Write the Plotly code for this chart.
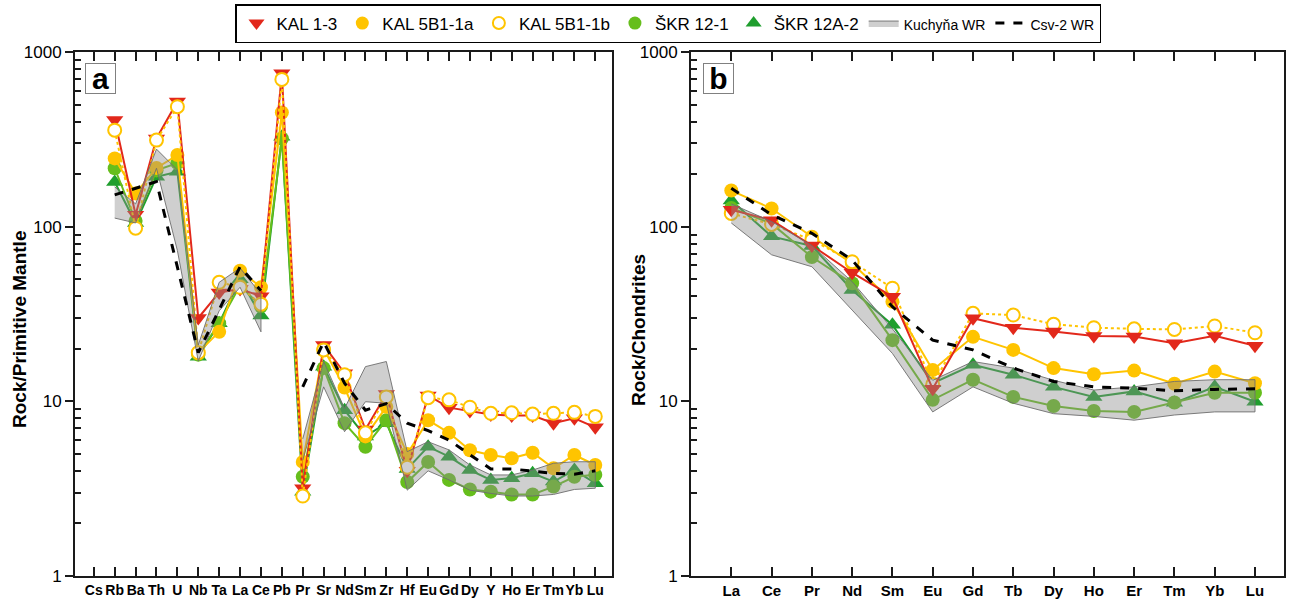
import plotly.graph_objects as go

# ---------------------------------------------------------------- data
pm_elements = ["Cs", "Rb", "Ba", "Th", "U", "Nb", "Ta", "La", "Ce", "Pb", "Pr", "Sr", "Nd",
               "Sm", "Zr", "Hf", "Eu", "Gd", "Dy", "Y", "Ho", "Er", "Tm", "Yb", "Lu"]
ree_elements = ["La", "Ce", "Pr", "Nd", "Sm", "Eu", "Gd", "Tb", "Dy", "Ho", "Er", "Tm", "Yb", "Lu"]

# (a) primitive-mantle normalised values
kal13_pm = [None, 408, 117, 320, 520, 30, 42, 44, 40, 755, 3.18, 21, 14.5, 6.9, 11.0, 4.0,
            10.8, 9.2, 8.8, 8.4, 8.3, 8.3, 7.5, 8.0, 7.1]
kal5b1a_pm = [None, 246, 155, 217, 257, 19, 25, 56, 45, 450, 4.5, 20, 12.0, 6.3, 9.3, 5.0,
              7.8, 6.6, 5.25, 4.93, 4.72, 5.08, 4.14, 4.93, 4.32]
kal5b1b_pm = [None, 357, 98, 313, 486, 19, 48, 45, 36, 697, 2.87, 19.7, 14.2, 6.6, 10.6, 4.2,
              10.5, 10.2, 9.25, 8.54, 8.6, 8.45, 8.54, 8.65, 8.2]
skr121_pm = [None, 216, 108, 210, 231, 18.5, 28, 46, 35, 320, 3.7, 15.5, 7.5, 5.5, 7.8, 3.45,
             4.5, 3.55, 3.13, 3.04, 2.93, 2.93, 3.25, 3.7, 3.8]
skr12a2_pm = [None, 180, 105, 193, 206, 18, 28, 50, 31, 327, 3.04, 15.8, 8.9, 6.3, 7.5, 4.1,
              5.5, 4.82, 4.04, 3.55, 3.63, 3.87, 3.47, 4.04, 3.4]
csv2_pm = [None, 152, None, 181, None, 19, None, 59, 43, None, 12.1, 21.9, 12.7, 8.9, 9.7, 7.5,
           6.8, 6.0, 4.95, 4.1, 4.1, 4.0, 3.87, 3.83, 4.0]
kuch_pm_hi = [None, 169, 135, 278, 211, 21, 48, 58, 41, None, 6.1, 16.9, 9.1, 15.8, 16.9, 5.15,
              5.87, 5.27, 4.32, 3.79, 3.79, 4.04, 4.42, 4.51, 4.51]
kuch_pm_lo = [None, 112, 105, 216, 73, 17, 33, 45, 25, None, 4.6, 12.1, 6.7, 9.95, 9.75, 3.1,
              4.0, 3.55, 3.1, 2.97, 2.87, 2.87, 2.93, 3.13, 3.18]

# (b) chondrite normalised REE
kal13_cn = [125, 109, 78, 54.5, 39.7, 11.8, 29.9, 26.4, 25.1, 23.7, 23.5, 21.5, 23.7, 20.8]
kal5b1a_cn = [161, 127, 87.6, 61.7, 37.2, 15.1, 23.4, 19.7, 15.5, 14.3, 15.0, 12.6, 14.8, 12.7]
kal5b1b_cn = [119, 103, 84, 63, 44.4, 12.5, 31.9, 31.2, 27.6, 26.4, 26.0, 25.8, 27.0, 24.7]
skr121_cn = [128, 104, 67, 47.4, 22.4, 10.2, 13.3, 10.6, 9.4, 8.8, 8.7, 9.85, 11.2, 11.2]
skr12a2_cn = [141, 88, 77.5, 43.4, 27.4, 12.7, 16.2, 14.2, 12.1, 10.6, 11.4, 9.8, 12.1, 9.95]
csv2_cn = [166, 117, 91.6, 64.4, 34.8, 22.4, 19.7, 15.5, 13.0, 12.1, 11.9, 11.5, 11.7, 11.8]
kuch_cn_hi = [135, 107, 78, 48.4, 26, 13.2, 16.9, 15.5, 13.2, 11.6, 12.1, 13.0, 13.3, 13.3]
kuch_cn_lo = [105, 69, 59, 33.3, 18.8, 8.7, 12.1, 9.75, 8.5, 8.2, 7.8, 8.35, 8.7, 8.7]

y_ticks = [1, 10, 100, 1000]
y_ticklabels = ["1", "10", "100", "1000"]

# ---------------------------------------------------------------- styles
RED = "#E2281B"
YEL = "#FFC400"
GRN1 = "#66BE1C"
GRN2 = "#1F9E2E"
BAND_FILL = "rgba(140,140,140,0.42)"
BAND_LINE = "rgba(110,110,110,0.9)"

samples = {
    "KAL 1-3": dict(color=RED, symbol="triangle-down", size=15, fill=RED, dash="solid"),
    "KAL 5B1-1a": dict(color=YEL, symbol="circle", size=14, fill=YEL, dash="solid"),
    "KAL 5B1-1b": dict(color=YEL, symbol="circle", size=13, fill="white", dash="dot"),
    "ŠKR 12-1": dict(color=GRN1, symbol="circle", size=14, fill=GRN1, dash="solid"),
    "ŠKR 12A-2": dict(color=GRN2, symbol="triangle-up", size=15, fill=GRN2, dash="solid"),
}

fig = go.Figure()


def add_sample(name, x, y, xa, ya):
    s = samples[name]
    fig.add_trace(go.Scatter(
        x=x, y=y, xaxis=xa, yaxis=ya, mode="lines+markers", name=name, showlegend=False,
        connectgaps=False,
        line=dict(color=s["color"], width=2, dash=s["dash"]),
        marker=dict(symbol=s["symbol"], size=s["size"], color=s["fill"],
                    line=dict(color=s["color"], width=2 if s["fill"] == "white" else 0)),
    ))


def runs_of(values):
    """Index runs where a value is present."""
    runs, cur = [], []
    for i, v in enumerate(values):
        if v is None:
            if cur:
                runs.append(cur)
            cur = []
        else:
            cur.append(i)
    if cur:
        runs.append(cur)
    return runs


def add_band(xs, hi, lo, xa, ya, legend):
    for k, run in enumerate(runs_of(hi)):
        bx = [xs[i] for i in run] + [xs[i] for i in reversed(run)]
        by = [hi[i] for i in run] + [lo[i] for i in reversed(run)]
        fig.add_trace(go.Scatter(
            x=bx, y=by, xaxis=xa, yaxis=ya, mode="lines", fill="toself",
            fillcolor=BAND_FILL, line=dict(color=BAND_LINE, width=1),
            name='<span style="font-size:14px">Kuchyňa WR</span>',
            showlegend=legend and k == 0, legendrank=6, hoverinfo="skip",
        ))


def add_csv2(xs, ys, xa, ya, legend):
    # the curve is broken at Pb (not analysed); other missing elements are bridged
    cut = xs.index("Pb") if "Pb" in xs else len(xs)
    parts = [(xs[:cut], ys[:cut]), (xs[cut + 1:], ys[cut + 1:])]
    parts = [p for p in parts if p[0]]
    for k, (px, py) in enumerate(parts):
        fig.add_trace(go.Scatter(
            x=px, y=py, xaxis=xa, yaxis=ya, mode="lines", connectgaps=True,
            line=dict(color="black", width=3, dash="dash"),
            name='<span style="font-size:14px">Csv-2 WR</span>',
            showlegend=legend and k == 0, legendrank=7,
        ))


# panel a
for nm, vals in [("ŠKR 12A-2", skr12a2_pm), ("ŠKR 12-1", skr121_pm), ("KAL 5B1-1a", kal5b1a_pm),
                 ("KAL 1-3", kal13_pm), ("KAL 5B1-1b", kal5b1b_pm)]:
    add_sample(nm, pm_elements, vals, "x", "y")
add_band(pm_elements, kuch_pm_hi, kuch_pm_lo, "x", "y", True)
add_csv2(pm_elements, csv2_pm, "x", "y", True)

# panel b
for nm, vals in [("ŠKR 12A-2", skr12a2_cn), ("ŠKR 12-1", skr121_cn), ("KAL 5B1-1a", kal5b1a_cn),
                 ("KAL 5B1-1b", kal5b1b_cn), ("KAL 1-3", kal13_cn)]:
    add_sample(nm, ree_elements, vals, "x2", "y2")
add_band(ree_elements, kuch_cn_hi, kuch_cn_lo, "x2", "y2", False)
add_csv2(ree_elements, csv2_cn, "x2", "y2", False)

# legend entries (symbol only)
for rank, (nm, s) in enumerate(samples.items(), start=1):
    fig.add_trace(go.Scatter(
        x=[None], y=[None], xaxis="x", yaxis="y", mode="markers", name=nm, legendrank=rank,
        marker=dict(symbol=s["symbol"], size=s["size"] - 1, color=s["fill"],
                    line=dict(color=s["color"], width=2 if s["fill"] == "white" else 0)),
    ))

# ---------------------------------------------------------------- axes
W, H = 1293, 600
top, bottom = 52, 576
ydom = [(H - bottom) / H, (H - top) / H]
xa_dom = [75 / W, 612 / W]
xb_dom = [691 / W, 1284 / W]

minor_vals = [m * 10 ** e for e in range(3) for m in range(2, 10)]
AX = "#1a1a1a"

common_x = dict(type="category", showgrid=False, zeroline=False, showline=True, linewidth=2,
                linecolor=AX, mirror="allticks", ticks="inside", ticklen=9, tickwidth=1.5,
                tickcolor=AX, tickangle=0, automargin=False, tickmode="array")
common_y = dict(type="log", range=[0, 3], showgrid=False, zeroline=False, showline=True,
                linewidth=2, linecolor=AX, mirror=True, ticks="outside", ticklen=8,
                tickwidth=1.5, tickcolor=AX, tickmode="array", tickvals=y_ticks,
                ticktext=y_ticklabels, automargin=False,
                tickfont=dict(family="Liberation Sans, Arial", size=17, color="black"),
                minor=dict(ticks="inside", ticklen=6, tickwidth=1.5, tickcolor=AX,
                           tickmode="array", tickvals=minor_vals, showgrid=False))
right_y = dict(type="log", range=[0, 3], showgrid=False, zeroline=False, showline=False,
               ticks="inside", ticklen=9, tickwidth=1.5, tickcolor=AX, tickmode="array",
               tickvals=y_ticks, showticklabels=False, side="right", automargin=False,
               minor=dict(ticks="inside", ticklen=6, tickwidth=1.5, tickcolor=AX,
                          tickmode="array", tickvals=minor_vals, showgrid=False))

fig.update_layout(
    width=W, height=H, margin=dict(l=0, r=0, t=0, b=0, autoexpand=False),
    paper_bgcolor="white", plot_bgcolor="white",
    font=dict(family="Liberation Sans, Arial", color="black"),
    xaxis=dict(common_x, domain=xa_dom, anchor="y", range=[-0.9, 24.8],
               categoryorder="array", categoryarray=pm_elements, tickvals=pm_elements,
               tickfont=dict(family="Liberation Sans, Arial", size=14, color="black",
                             weight="bold")),
    yaxis=dict(common_y, domain=ydom, anchor="x"),
    xaxis2=dict(common_x, domain=xb_dom, anchor="y2", range=[-1.0, 13.72],
                categoryorder="array", categoryarray=ree_elements, tickvals=ree_elements,
                tickfont=dict(family="Liberation Sans, Arial", size=15, color="black",
                              weight="bold")),
    yaxis2=dict(common_y, domain=ydom, anchor="x2"),
    yaxis3=dict(right_y, overlaying="y", anchor="x"),
    yaxis4=dict(right_y, overlaying="y2", anchor="x2"),
    showlegend=True,
    legend=dict(orientation="h", x=668 / W, xanchor="center", y=1 - 4 / H, yanchor="top",
                bordercolor="black", borderwidth=1.5, bgcolor="white",
                font=dict(family="Liberation Sans, Arial", size=17, color="black"),
                itemwidth=30, tracegroupgap=0),
)

# panel letters and y-axis titles
for txt, xc in [("a", 100), ("b", 718)]:
    fig.add_annotation(text=f"<b>{txt}</b>", xref="paper", yref="paper", x=xc / W, y=1 - 79 / H,
                       xanchor="center", yanchor="middle", showarrow=False, width=29, height=29,
                       bordercolor="#808080", borderwidth=1, borderpad=0, bgcolor="white",
                       font=dict(family="Liberation Sans, Arial", size=30, color="black"))
for txt, xc in [("Rock/Primitive Mantle", 19), ("Rock/Chondrites", 638)]:
    fig.add_annotation(text=f"<b>{txt}</b>", xref="paper", yref="paper", x=xc / W, y=1 - 330 / H,
                       xanchor="center", yanchor="middle", showarrow=False, textangle=-90,
                       font=dict(family="Liberation Sans, Arial", size=19, color="black"))

fig.write_html("out.html")
